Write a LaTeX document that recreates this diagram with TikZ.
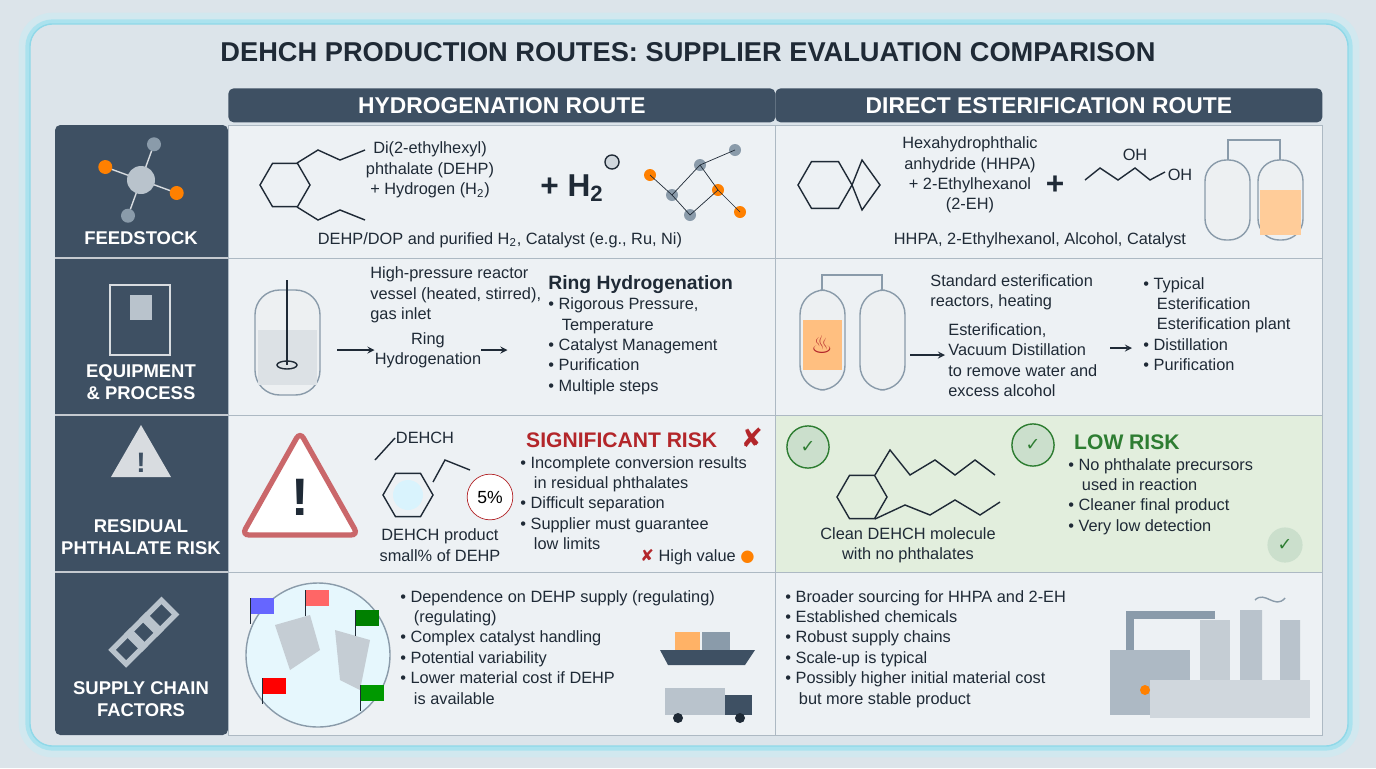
\documentclass[tikz,border=0pt]{standalone}
\usepackage{fontspec}
\setmainfont{Liberation Sans}
\newfontfamily\symfont{DejaVu Sans}
\usetikzlibrary{positioning}
\usetikzlibrary{shapes.geometric}
\definecolor{pagebg}{HTML}{DCE4EA}
\definecolor{slate}{HTML}{3E5063}
\definecolor{cellbg}{HTML}{EDF1F4}
\definecolor{greenbg}{HTML}{E2EEDD}
\definecolor{ink}{HTML}{1F2A36}
\definecolor{riskred}{HTML}{B3262A}
\definecolor{okgreen}{HTML}{2E7D32}
\definecolor{glow}{HTML}{8FD8E8}
\definecolor{steel}{HTML}{8A9BAA}
\newcommand{\bl}{\textbullet\ }
\newcommand{\hexring}[3]{% centre x, centre y, radius
  \draw[ink, thick] (#1+#3,#2) -- (#1+#3/2,#2+0.866*#3) -- (#1-#3/2,#2+0.866*#3) -- (#1-#3,#2) -- (#1-#3/2,#2-0.866*#3) -- (#1+#3/2,#2-0.866*#3) -- cycle;}

\begin{document}
\begin{tikzpicture}[x=0.02cm, y=-0.02cm,
  cell/.style={draw=steel!70, fill=cellbg},
  hdr/.style={fill=slate, text=white, font=\fontsize{13}{15}\selectfont\bfseries, minimum height=34*0.02cm, inner sep=0, anchor=north west},
  rowlbl/.style={text=white, font=\fontsize{10.5}{12.5}\selectfont\bfseries, align=center},
  txt/.style={text=ink, font=\fontsize{9.3}{11.6}\selectfont, align=left, inner sep=0},
  ctxt/.style={txt, align=center},
  flow/.style={->, >=stealth, ink, thick},
  ball/.style={circle, draw=ink, thick, minimum size=#1, inner sep=0}]

\useasboundingbox (0,0) rectangle (1376,768);
\fill[pagebg] (0,0) rectangle (1376,768);
\draw[glow, line width=3pt, rounded corners=14pt] (28,22) rectangle (1350,748);
\draw[glow!50, line width=6pt, rounded corners=16pt, opacity=0.5] (24,18) rectangle (1354,752);

% title
\node (title) [text=ink, font=\fontsize{15.5}{18}\selectfont\bfseries] at (688,52) {DEHCH PRODUCTION ROUTES: SUPPLIER EVALUATION COMPARISON};

% headers
\node (hhyd) [hdr, minimum width=547*0.02cm, rounded corners=3pt] at (228,88) {HYDROGENATION ROUTE};
\node (hest) [hdr, minimum width=547*0.02cm, rounded corners=3pt] at (775,88) {DIRECT ESTERIFICATION ROUTE};

% left label column
\fill[slate, rounded corners=3pt] (55,125) rectangle (228,735);
\foreach \y in {258,415,572} \draw[white!70!slate, thick] (55,\y) -- (228,\y);
\node (lfeed) [rowlbl] at (141,238) {FEEDSTOCK};
\node (lequip) [rowlbl] at (141,382) {EQUIPMENT\\\& PROCESS};
\node (lrisk) [rowlbl] at (141,537) {RESIDUAL\\PHTHALATE RISK};
\node (lsupp) [rowlbl] at (141,699) {SUPPLY CHAIN\\FACTORS};

% cells
\foreach \ya/\yb in {125/258,258/415,415/572,572/735} {
  \draw[cell] (228,\ya) rectangle (775,\yb);
  \draw[cell] (775,\ya) rectangle (1322,\yb);
}
\draw[cell, fill=greenbg] (775,415) rectangle (1322,572);

% left icons
\foreach \a/\c in {20/orange,110/steel,200/orange,290/steel} {
  \draw[white!80!slate, thick] (141,180) -- ++(\a:38);
  \fill[\c] (141,180) ++(\a:38) circle (7);
}
\fill[steel!60!white] (141,180) circle (14);
\draw[white!80!slate, thick] (110,285) rectangle (170,355);
\fill[steel!60!white] (130,295) rectangle (152,320);
\fill[white!80!slate] (141,455) ++(0,-30) -- ++(30,52) -- ++(-60,0) -- cycle;
\node (wmark) [text=slate, font=\fontsize{16}{16}\selectfont\bfseries] at (141,463) {!};
\foreach \i in {0,1,2} \draw[steel!60!white, line width=3pt, rotate around={45:(141,635)}] (110+\i*22,625) rectangle ++(26,20);

% ---------- feedstock, hydrogenation
\hexring{285}{185}{25}
\draw[ink, thick] (297,163) -- (318,150) -- (340,160) -- (365,150);
\draw[ink, thick] (297,207) -- (318,220) -- (340,210) -- (365,220);
\node (dehp) [ctxt] at (430,170) {Di(2-ethylhexyl)\\phthalate (DEHP)\\+ Hydrogen (H\textsubscript{2})};
\node (plush) [text=ink, font=\fontsize{18}{18}\selectfont\bfseries] at (572,188) {+ H\textsubscript{2}};
\node (hball) [ball=8pt, fill=steel!40] at (612,162) {};
\foreach \p/\q/\c in {650/175/orange,672/195/steel,700/165/steel,718/190/orange,735/150/steel,690/215/steel,740/212/orange} \fill[\c] (\p,\q) circle (6);
\draw[ink] (650,175) -- (672,195) -- (700,165) -- (735,150);
\draw[ink] (700,165) -- (718,190) -- (740,212);
\draw[ink] (672,195) -- (690,215) -- (718,190);
\node (dehpsrc) [txt] at (500,240) {DEHP/DOP and purified H\textsubscript{2}, Catalyst (e.g., Ru, Ni)};

% ---------- feedstock, esterification
\hexring{825}{185}{27}
\draw[ink, thick] (852,185) -- (862,160) -- (880,185) -- (862,210) -- cycle;
\node (hhpa) [ctxt] at (970,175) {Hexahydrophthalic\\anhydride (HHPA)\\+ 2-Ethylhexanol\\(2-EH)};
\node (plusb) [text=ink, font=\fontsize{18}{18}\selectfont\bfseries] at (1055,185) {+};
\draw[ink, thick] (1085,180) -- (1100,168) -- (1118,180) -- (1135,168) -- (1150,180) -- (1165,172);
\node (oh1) [txt] at (1135,155) {OH};
\node (oh2) [txt] at (1180,175) {OH};
\foreach \x in {1205,1258} {
  \draw[steel, fill=white!85!steel, thick, rounded corners=12pt] (\x,160) rectangle ++(45,80);
}
\fill[orange!40] (1260,190) rectangle (1301,235);
\draw[steel, thick] (1228,160) -- (1228,140) -- (1280,140) -- (1280,160);
\node (hhpasrc) [txt] at (1040,240) {HHPA, 2-Ethylhexanol, Alcohol, Catalyst};

% ---------- equipment, hydrogenation
\draw[steel, thick, fill=white!85!steel, rounded corners=14pt] (255,290) rectangle (320,395);
\fill[steel!30] (258,330) rectangle (317,385);
\draw[ink, thick] (287,280) -- (287,365);
\draw[ink, thick] (287,365) ellipse (10 and 4);
\node (vessel) [txt, anchor=west] at (370,295) {High-pressure reactor\\vessel (heated, stirred),\\gas inlet};
\node (ringh) [ctxt] at (428,350) {Ring\\Hydrogenation};
\coordinate (reactout) at (337,350);
\draw[flow] (reactout) -- (ringh.west);
\node (hsteps) [txt, anchor=north west] at (548,275) {\textbf{\fontsize{11}{13}\selectfont Ring Hydrogenation}\\
\bl Rigorous Pressure,\\\ \ \ Temperature\\\bl Catalyst Management\\\bl Purification\\\bl Multiple steps};
\draw[flow] (ringh.east) -- ++(26,0);

% ---------- equipment, esterification
\foreach \x in {800,860} \draw[steel, thick, fill=white!85!steel, rounded corners=14pt] (\x,290) rectangle ++(45,100);
\fill[orange!50] (803,320) rectangle (842,370);
\node (flame) [text=riskred, font=\fontsize{14}{14}\selectfont\bfseries] at (822,345) {\symfont ♨};
\draw[steel, thick] (822,290) -- (822,275) -- (882,275) -- (882,290);
\node (stdreact) [txt, anchor=west] at (930,292) {Standard esterification\\reactors, heating};
\node (vacdist) [txt, anchor=west] at (948,360) {Esterification,\\Vacuum Distillation\\to remove water and\\excess alcohol};
\node (esteps) [txt, anchor=north west] at (1143,277) {\bl Typical\\\ \ \ Esterification\\\ \ \ Esterification plant\\\bl Distillation\\\bl Purification};
\coordinate (esfrom) at (1110,348);
\draw[flow] (esfrom) -- (1132,348);
\coordinate (tankout) at (910,355);
\draw[flow] (tankout) -- (945,355);

% ---------- risk, hydrogenation
\draw[riskred!70, line width=3pt, fill=white, rounded corners=4pt] (300,432) -- (358,535) -- (242,535) -- cycle;
\node (bang) [text=ink, font=\fontsize{30}{30}\selectfont\bfseries] at (300,497) {!};
\node (dehchlbl) [txt] at (425,438) {DEHCH};
\hexring{408}{495}{25}
\fill[cyan!15] (408,495) circle (15);
\draw[ink, thick] (375,460) -- (395,438);
\draw[ink, thick] (433,482) -- (445,460) -- (470,470);
\node (pct) [circle, draw=riskred, fill=white, font=\fontsize{10}{10}\selectfont, inner sep=1pt, minimum size=26pt] at (490,497) {5\%};
\node (dehchprod) [ctxt] at (440,545) {DEHCH product\\small\% of DEHP};
\node (sigrisk) [text=riskred, font=\fontsize{12}{14}\selectfont\bfseries, anchor=west] at (520,440) {SIGNIFICANT RISK};
\node (xmark) [text=riskred, font=\fontsize{15}{15}\selectfont\bfseries] at (752,438) {\symfont ✘};
\node (sigpts) [txt, anchor=north west] at (520,456) {\bl Incomplete conversion results\\\ \ \ in residual phthalates\\\bl Difficult separation\\\bl Supplier must guarantee\\\ \ \ low limits};
\node (hival) [txt, anchor=west] at (640,557) {{\symfont\color{riskred}✘} High value {\color{orange}\symfont●}};

% ---------- risk, esterification
\node (chk1) [circle, fill=okgreen!25, draw=okgreen, thick, minimum size=24pt, text=okgreen, font=\symfont\bfseries] at (808,447) {✓};
\hexring{862}{497}{25}
\draw[ink, thick] (875,475) -- (890,450) -- (910,475) -- (935,460) -- (955,475) -- (975,460) -- (995,475);
\draw[ink, thick] (875,519) -- (905,505) -- (930,515) -- (955,500) -- (980,515) -- (1000,502);
\node (cleanmol) [ctxt] at (908,545) {Clean DEHCH molecule\\with no phthalates};
\node (chk2) [circle, fill=okgreen!25, draw=okgreen, thick, minimum size=24pt, text=okgreen, font=\symfont\bfseries] at (1033,445) {✓};
\node (lowrisk) [text=okgreen, font=\fontsize{12}{14}\selectfont\bfseries, anchor=west] at (1068,442) {LOW RISK};
\node (lowpts) [txt, anchor=north west] at (1068,458) {\bl No phthalate precursors\\\ \ \ used in reaction\\\bl Cleaner final product\\\bl Very low detection};
\node (chk3) [circle, fill=okgreen!25, minimum size=20pt, text=okgreen, font=\symfont\bfseries] at (1285,545) {✓};

% ---------- supply, hydrogenation
\draw[steel, thick, fill=cyan!10] (318,655) circle (72);
\fill[steel!50] (275,625) -- (310,615) -- (320,650) -- (290,670) -- cycle;
\fill[steel!50] (335,630) -- (370,640) -- (360,690) -- (340,680) -- cycle;
\foreach \x/\y/\c in {250/598/blue!60,305/590/red!60,355/610/green!50!black,262/678/red,360/685/green!60!black} {
  \fill[\c] (\x,\y) rectangle ++(24,16);
  \draw[ink] (\x,\y) -- ++(0,26);
}
\node (hsupp) [txt, anchor=north west] at (400,590) {\bl Dependence on DEHP supply (regulating)\\\ \ \ (regulating)\\\bl Complex catalyst handling\\\bl Potential variability\\\bl Lower material cost if DEHP\\\ \ \ is available};
\fill[slate] (660,650) -- (755,650) -- (745,665) -- (668,665) -- cycle;
\fill[orange!60] (675,632) rectangle (700,650);
\fill[steel] (702,632) rectangle (730,650);
\fill[steel!60] (665,688) rectangle (725,715);
\fill[slate] (725,695) rectangle (752,715);
\fill[ink] (678,718) circle (5) (740,718) circle (5);

% ---------- supply, esterification
\node (esupp) [txt, anchor=north west] at (785,590) {\bl Broader sourcing for HHPA and 2-EH\\\bl Established chemicals\\\bl Robust supply chains\\\bl Scale-up is typical\\\bl Possibly higher initial material cost\\\ \ \ but more stable product};
\fill[steel!70] (1110,650) rectangle (1190,715);
\fill[steel!50] (1200,620) rectangle (1230,715);
\fill[steel!60] (1240,610) rectangle (1262,715) (1280,620) rectangle (1300,715);
\fill[steel!40] (1150,680) rectangle (1310,718);
\draw[steel, line width=4pt] (1130,650) -- (1130,615) -- (1215,615);
\fill[orange] (1145,690) circle (5);
\draw[steel, thick] (1255,600) .. controls (1265,590) and (1275,610) .. (1285,598);
\end{tikzpicture}
\end{document}
